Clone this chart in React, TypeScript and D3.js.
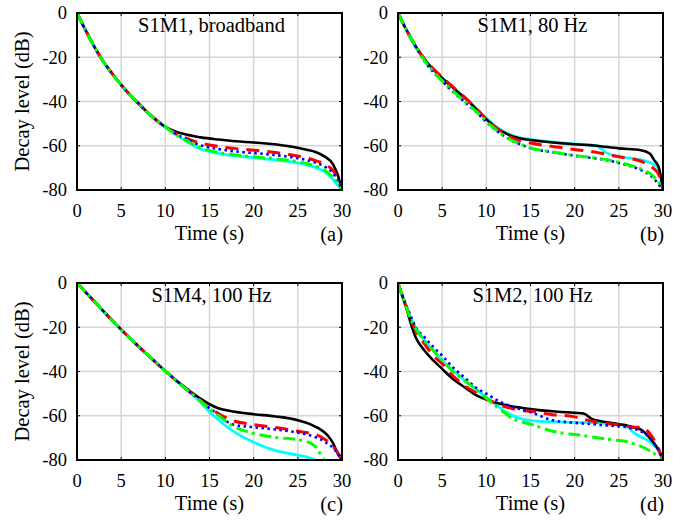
import React from "react";
import * as d3 from "d3";

const xTicks = [0, 5, 10, 15, 20, 25, 30];
const yTicks = [0, -20, -40, -60, -80];

// (a) S1M1, broadband
const timeA = [0, 1, 2, 3, 4, 5, 6, 7, 8, 9, 10, 11, 12, 14, 16, 18, 20, 22, 24, 26, 27, 28, 29, 29.5, 30];
const blackA = [0, -8, -15.5, -22, -27.5, -32.5, -37, -41, -45, -48.5, -51.5, -53.3, -54.6, -56.2, -57.2, -58, -58.5, -59.2, -60.2, -61.8, -62.8, -64.8, -68.5, -73, -80];
const redA = [0, -8, -15.5, -22, -27.5, -32.5, -37, -41, -45, -48.5, -51.5, -54, -56, -58.8, -60.3, -61.3, -62, -62.8, -64, -65.5, -66.7, -68.3, -71.3, -74.5, -80];
const blueA = [0, -8, -15.5, -22, -27.5, -32.5, -37, -41, -45, -48.5, -51.5, -54.2, -56.4, -59.8, -61.5, -62.6, -63.3, -64, -65, -66.5, -67.7, -69.3, -72.5, -75.5, -80];
const greenA = [0, -8, -15.5, -22, -27.5, -32.5, -37, -41, -45, -48.5, -51.5, -54.4, -56.8, -61, -63, -64.2, -65, -65.7, -66.6, -68, -69.2, -71, -74.5, -77, -80];
const cyanA = [0, -8, -15.5, -22, -27.5, -32.5, -37, -41, -45, -48.5, -51.5, -54.5, -57, -61.5, -63.4, -64.6, -65.4, -66.2, -67.2, -68.6, -69.8, -71.7, -75.2, -77.8, -80];

// (b) S1M1, 80 Hz
const timeB = [0, 1, 2, 3, 4, 5, 6, 7, 8, 9, 10, 11, 12, 13, 14, 15, 17.5, 20, 22.5, 23.5, 25, 27.5, 28.5, 29, 29.5, 30];
const blackB = [0, -8, -15, -21, -25.5, -29.5, -33, -36.5, -40, -44, -48, -51.5, -54, -55.8, -56.8, -57.4, -58.5, -59.3, -60, -60.5, -61.2, -62, -63.5, -66.5, -69.5, -80];
const redB = [0, -8, -15, -20.8, -25.2, -29, -32.6, -36.2, -39.8, -43.8, -48, -51.6, -54.3, -56.6, -58, -58.8, -60.3, -61.7, -63, -63.8, -65, -67, -69, -70.5, -73, -80];
const blueB = [0, -8, -15.2, -21.8, -26.8, -30.8, -34.8, -38.3, -41.8, -45.3, -49.2, -52.7, -55.6, -57.9, -59.6, -61.1, -62.9, -64.5, -65.8, -66.4, -67.8, -71, -73.2, -75, -77.5, -80];
const greenB = [0, -8, -15, -21.5, -26.5, -30.5, -34.5, -38, -41.5, -45, -49, -52.5, -55.5, -57.8, -59.5, -61, -62.8, -64.4, -65.6, -66.2, -67.5, -70.5, -72.5, -74.2, -76.5, -80];
const cyanB = [0, -8, -15.5, -21, -25.5, -29.3, -32.8, -36.3, -39.8, -43.8, -47.6, -51, -53.6, -55.4, -56.5, -57.1, -58.3, -59.2, -60, -63, -64.8, -66.4, -67.5, -68.5, -70.5, -80];

// (c) S1M4, 100 Hz
const timeC = [0, 2, 4, 6, 8, 10, 11, 12, 13, 14, 15, 16, 17.5, 20, 22.5, 25, 26.5, 27, 27.5, 28, 28.5, 29, 29.5, 30];
const blackC = [0, -8.5, -17, -25, -32.5, -39.8, -43.3, -46.5, -49.5, -52.3, -54.8, -56.6, -58, -59.3, -60.3, -62, -64, -65, -66, -67.5, -69.5, -72.5, -77, -80];
const redC = [0, -8.5, -17, -25, -32.5, -39.8, -43.3, -46.8, -50, -53.2, -56.5, -59, -62, -64, -65.3, -67, -68, -68.5, -69.3, -70.5, -72, -74, -76.5, -80];
const blueC = [0, -8.5, -17, -25, -32.5, -39.8, -43.3, -46.8, -50, -53.3, -56.6, -59.3, -63.8, -65.2, -66.2, -67.6, -69, -69.7, -70.5, -71.7, -73, -74.5, -77, -80];
const greenC = [0, -8.5, -17, -25, -32.5, -39.8, -43.3, -46.8, -50, -53.4, -56.8, -59.8, -64.3, -68, -69.8, -70.8, -72.5, -74, -77, -80, null, null, null, null];
const cyanC = [0, -8.5, -17, -25, -32.5, -39.8, -43.3, -46.8, -50.2, -54, -58.2, -61.8, -66.5, -72, -75.8, -77.8, -79.2, -80, null, null, null, null, null, null];

// (d) S1M2, 100 Hz
const timeD = [0, 0.5, 1, 1.5, 2, 3, 4, 5, 6, 7.5, 9, 10, 11, 12, 13, 14, 15, 17.5, 20, 21, 22, 23, 25, 26, 26.5, 27.5, 28.5, 29, 29.5, 30];
const blackD = [0, -6, -12, -19, -24.5, -30.5, -35, -38.8, -42.6, -47, -51, -52.7, -54, -55, -55.8, -56.4, -57, -58, -58.7, -59, -61.6, -62.5, -63.8, -64.5, -65, -66.3, -70, -72.5, -75.5, -80];
const redD = [0, -6, -11.5, -17, -21.4, -27.5, -32.8, -36.5, -41, -46.3, -50, -52.4, -54.3, -55.8, -56.8, -57.5, -58, -59.5, -60.5, -61.5, -62.5, -63.2, -64.2, -64.8, -65.3, -65.2, -68, -71, -75, -80];
const blueD = [0, -5.5, -10.5, -15.5, -20, -24.5, -29, -32.8, -37.3, -42.6, -47.8, -50, -52.5, -54.5, -56, -57.2, -58.4, -62, -63.2, -63.5, -63.8, -64.2, -64.8, -65.3, -65.8, -67, -70, -72.5, -75.5, -80];
const greenD = [0, -6, -11.5, -17, -20.7, -26, -30.5, -35, -39, -44, -48.6, -52, -55.4, -58.4, -61.4, -62.8, -63.8, -67, -68.5, -69, -69.6, -70.2, -71.2, -71.8, -72.5, -73.8, -75.8, -77, -79, -80];
const cyanD = [0, -6, -11.5, -16.5, -20, -26, -30.5, -35, -38.8, -43.8, -48.6, -51.6, -54.6, -57.7, -60, -61.4, -62.2, -62.7, -63, -63.1, -63.2, -63.3, -64, -64.8, -67, -69.6, -71.7, -73.5, -75.5, -80];

const styles = {
  cyan: { color: "#00ffff", width: 2.8, dash: null },
  black: { color: "#000000", width: 2.6, dash: null },
  red: { color: "#ff0000", width: 3, dash: "13,8" },
  blue: { color: "#0000ff", width: 2.6, dash: "2.5,3.5" },
  green: { color: "#00ff00", width: 3, dash: "12,4,3,5" },
};
const drawOrder = ["cyan", "black", "red", "blue", "green"];

const W = 265;
const H = 177;
const font = "'Liberation Serif', 'Times New Roman', serif";

const panels = [
  { id: "a", left: 77, top: 13, title: "S1M1, broadband", ylab: true, time: timeA,
    series: { black: blackA, red: redA, blue: blueA, green: greenA, cyan: cyanA } },
  { id: "b", left: 398, top: 13, title: "S1M1, 80 Hz", ylab: false, time: timeB,
    series: { black: blackB, red: redB, blue: blueB, green: greenB, cyan: cyanB } },
  { id: "c", left: 77, top: 283, title: "S1M4, 100 Hz", ylab: true, time: timeC,
    series: { black: blackC, red: redC, blue: blueC, green: greenC, cyan: cyanC } },
  { id: "d", left: 398, top: 283, title: "S1M2, 100 Hz", ylab: false, time: timeD,
    series: { black: blackD, red: redD, blue: blueD, green: greenD, cyan: cyanD } },
];

const Panel = ({ p }: { p: any }) => {
  const x = d3.scaleLinear().domain([0, 30]).range([0, W]);
  const y = d3.scaleLinear().domain([-80, 0]).range([H, 0]);
  const line = d3
    .line<number | null>()
    .defined((d) => d !== null)
    .x((d, i) => x(p.time[i]))
    .y((d) => y(d as number))
    .curve(d3.curveMonotoneX);

  return (
    <g transform={`translate(${p.left},${p.top})`}>
      <defs>
        <clipPath id={`clip-${p.id}`}>
          <rect x={-1} y={-1} width={W + 2} height={H + 2} />
        </clipPath>
      </defs>
      {xTicks.map((t) => (
        <line key={"gx" + t} x1={x(t)} x2={x(t)} y1={0} y2={H} stroke="#d6d6d6" strokeWidth={1.5} />
      ))}
      {yTicks.map((t) => (
        <line key={"gy" + t} x1={0} x2={W} y1={y(t)} y2={y(t)} stroke="#d6d6d6" strokeWidth={1.5} />
      ))}
      <g clipPath={`url(#clip-${p.id})`}>
        {drawOrder.map((k) => {
          const s = (styles as any)[k];
          return (
            <path
              key={k}
              d={line(p.series[k]) || ""}
              fill="none"
              stroke={s.color}
              strokeWidth={s.width}
              strokeDasharray={s.dash || undefined}
            />
          );
        })}
      </g>
      {xTicks.map((t) => (
        <g key={"tx" + t}>
          <line x1={x(t)} x2={x(t)} y1={H} y2={H - 3} stroke="#000" strokeWidth={1} />
          <line x1={x(t)} x2={x(t)} y1={0} y2={3} stroke="#000" strokeWidth={1} />
          <text x={x(t)} y={H + 26.5} textAnchor="middle" fontSize={18.5} fontFamily={font}>
            {t}
          </text>
        </g>
      ))}
      {yTicks.map((t) => (
        <g key={"ty" + t}>
          <line x1={0} x2={3} y1={y(t)} y2={y(t)} stroke="#000" strokeWidth={1} />
          <line x1={W} x2={W - 3} y1={y(t)} y2={y(t)} stroke="#000" strokeWidth={1} />
          <text x={-10} y={y(t) + 6.3} textAnchor="end" fontSize={18.5} fontFamily={font}>
            {t}
          </text>
        </g>
      ))}
      <rect x={0} y={0} width={W} height={H} fill="none" stroke="#000" strokeWidth={2} />
      <text x={W / 2 + 2} y={19} textAnchor="middle" fontSize={20.5} fontFamily={font}>
        {p.title}
      </text>
      <text x={W / 2} y={H + 50} textAnchor="middle" fontSize={20.5} fontFamily={font}>
        Time (s)
      </text>
      <text x={W + 1} y={H + 50.5} textAnchor="end" fontSize={20.5} fontFamily={font}>
        ({p.id})
      </text>
      {p.ylab && (
        <text
          transform={`translate(${-48},${H / 2}) rotate(-90)`}
          textAnchor="middle"
          fontSize={20.5}
          fontFamily={font}
        >
          Decay level (dB)
        </text>
      )}
    </g>
  );
};

export default function App() {
  return (
    <svg
      width={692}
      height={520}
      style={{ position: "absolute", left: 0, top: 0, background: "#fff" }}
    >
      <rect width={692} height={520} fill="#fff" />
      {panels.map((p) => (
        <Panel key={p.id} p={p} />
      ))}
    </svg>
  );
}
